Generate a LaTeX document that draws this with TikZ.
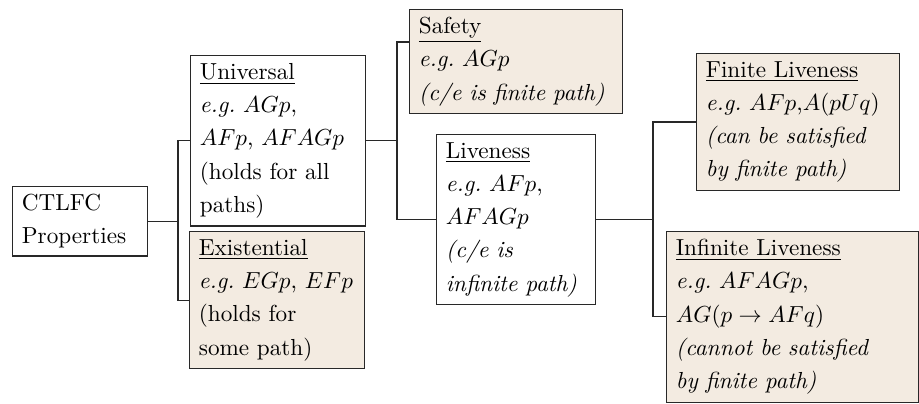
\documentclass[tikz,border=0pt]{standalone}
\usepackage{amsmath}
\definecolor{boxfill}{RGB}{243,235,225}
\definecolor{linecol}{RGB}{40,40,40}
\begin{document}
\begin{tikzpicture}[x=0.431pt,y=-0.431pt,
  box/.style={draw=linecol, line width=0.5pt, anchor=north west, align=left,
    inner xsep=4pt, inner ysep=3.3pt, font=\fontsize{10}{14.35}\selectfont},
  tint/.style={box, fill=boxfill},
  conn/.style={draw=linecol, line width=0.5pt}]
\useasboundingbox (0,0) rectangle (919,404);

\node[box, text width=50.2pt] (ctl) at (12,186) {CTLFC\\Properties};
\node[box, text width=67.4pt] (uni) at (190,55)
  {\underline{Universal}\\\textit{e.g.}~$AGp$,\\$AFp$, $AFAGp$\\(holds for all\\paths)};
\node[tint, text width=67.4pt] (exi) at (189,231)
  {\underline{Existential}\\\textit{e.g.}~$EGp$, $EFp$\\(holds for\\some path)};
\node[tint, text width=83.8pt] (saf) at (409,9)
  {\underline{Safety}\\\textit{e.g.}~$AGp$\\\textit{(c/e is finite path)}};
\node[box, text width=60.5pt] (liv) at (436,134)
  {\underline{Liveness}\\\textit{e.g.}~$AFp$,\\$AFAGp$\\\textit{(c/e is}\\\textit{infinite path)}};
\node[tint, text width=79.5pt] (fin) at (696,53)
  {\underline{Finite Liveness}\\\textit{e.g.}~$AFp$,$A(pUq)$\\\textit{(can be satisfied}\\\textit{by finite path)}};
\node[tint, text width=100.6pt] (inf) at (666,231)
  {\underline{Infinite Liveness}\\\textit{e.g.}~$AFAGp$,\\$AG(p\rightarrow AFq)$\\\textit{(cannot be satisfied}\\\textit{by finite path)}};

\coordinate (j1) at (178,0);
\coordinate (j2) at (397,0);
\coordinate (j3) at (653,0);
\coordinate (safp) at ([yshift=-14.2pt]saf.north west);

\draw[conn] (ctl.east) -- (ctl.east -| j1);
\draw[conn] (uni.west) -- (uni.west -| j1) -- (exi.west -| j1) -- (exi.west);
\draw[conn] (uni.east) -- (uni.east -| j2);
\draw[conn] (safp) -- (safp -| j2) -- (liv.west -| j2) -- (liv.west);
\draw[conn] (liv.east) -- (liv.east -| j3);
\draw[conn] (fin.west) -- (fin.west -| j3) -- (inf.west -| j3) -- (inf.west);
\end{tikzpicture}
\end{document}
